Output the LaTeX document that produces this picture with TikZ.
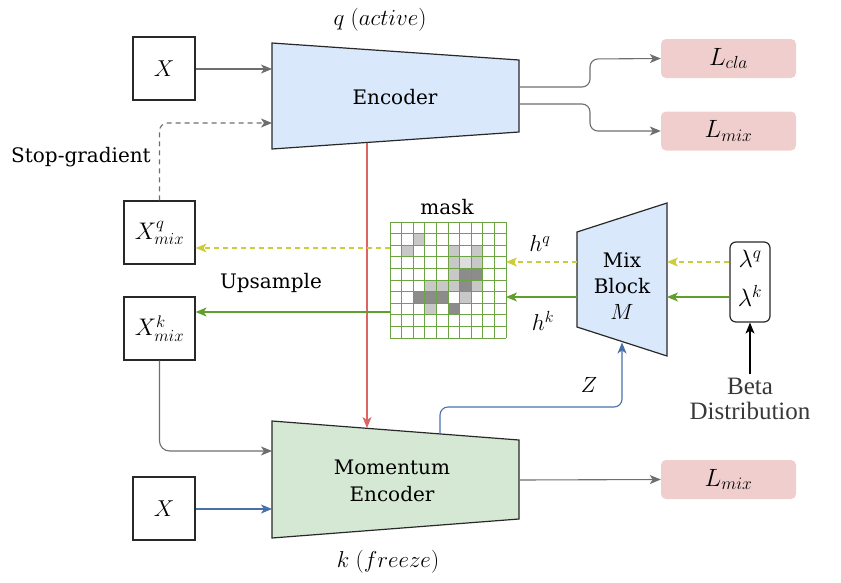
\RequirePackage{fix-cm}
\documentclass[tikz,border=0pt]{standalone}
\usepackage{fontspec}
\setmainfont{DejaVu Serif}
\newfontfamily\betafont{Liberation Serif}
\usetikzlibrary{arrows.meta}
\definecolor{encblue}{RGB}{218,232,252}
\definecolor{momgreen}{RGB}{213,232,212}
\definecolor{lossred}{RGB}{240,206,206}
\definecolor{arrgray}{RGB}{110,110,110}
\definecolor{arrblue}{RGB}{74,112,170}
\definecolor{arrred}{RGB}{222,100,100}
\definecolor{arrgreen}{RGB}{96,158,48}
\definecolor{gridgreen}{RGB}{108,164,68}
\definecolor{arryellow}{RGB}{205,205,60}
\definecolor{cellL}{RGB}{200,200,200}
\definecolor{cellVL}{RGB}{222,222,222}
\definecolor{cellD}{RGB}{140,140,140}
\definecolor{edge}{RGB}{40,40,40}
\begin{document}
\begin{tikzpicture}[x=1pt,y=-1pt,
  every node/.style={font=\fontsize{20}{24}\selectfont, inner sep=0pt},
  inbox/.style={draw=edge, line width=1.2pt, fill=white, inner sep=0pt},
  lossbox/.style={fill=lossred, rounded corners=5pt, minimum width=135pt, minimum height=39pt, font=\fontsize{25}{28}\selectfont},
  shapeline/.style={draw=edge, line width=1.2pt, line join=miter},
  arr/.style={-{Stealth[length=11pt,width=9pt,inset=3pt]}, line width=1.1pt},
  dashedarr/.style={arr, dash pattern=on 5pt off 4pt}
]
\useasboundingbox (0,0) rectangle (841,582);

% ---------- Encoder ----------
\coordinate (E1) at (272,43); \coordinate (E2) at (519,60);
\coordinate (E3) at (519,132); \coordinate (E4) at (272,149);
\draw[shapeline, fill=encblue] (E1) -- (E2) -- (E3) -- (E4) -- cycle;
\node (enc) at (395,97) {Encoder};
\node[font=\fontsize{23}{26}\selectfont] (qact) at (380,20) {$q\;(active)$};

% ---------- Momentum encoder ----------
\coordinate (P1) at (272,421); \coordinate (P2) at (519,440);
\coordinate (P3) at (519,519); \coordinate (P4) at (272,538);
\draw[shapeline, fill=momgreen] (P1) -- (P2) -- (P3) -- (P4) -- cycle;
\node[align=center, font=\fontsize{20}{26.5}\selectfont] (mom) at (392,481) {Momentum\\Encoder};
\node[font=\fontsize{23}{26}\selectfont] (kfr) at (388,562) {$k\;(freeze)$};

% ---------- Mix block ----------
\coordinate (M1) at (577,232); \coordinate (M2) at (667,203);
\coordinate (M3) at (667,356); \coordinate (M4) at (577,327);
\draw[shapeline, fill=encblue] (M1) -- (M2) -- (M3) -- (M4) -- cycle;
\node[align=center, font=\fontsize{20}{26}\selectfont] (mix) at (622,286) {Mix\\Block\\\fontsize{22}{26}\selectfont$M$};

% ---------- input boxes ----------
\node[inbox, minimum width=62pt, minimum height=63pt, font=\fontsize{23}{26}\selectfont] (x1) at (164,68.5) {$X$};
\node[inbox, minimum width=62pt, minimum height=63pt, font=\fontsize{23}{26}\selectfont] (x2) at (164,508.5) {$X$};
\node[inbox, minimum width=71pt, minimum height=63pt, font=\fontsize{24}{26}\selectfont] (xq) at (159.5,232.5) {$X^q_{mix}$};
\node[inbox, minimum width=71pt, minimum height=63pt, font=\fontsize{24}{26}\selectfont] (xk) at (159.5,328.5) {$X^k_{mix}$};

% ---------- losses ----------
\node[lossbox] (lcla) at (728.5,58.5) {$L_{cla}$};
\node[lossbox] (lmix1) at (728.5,131) {$L_{mix}$};
\node[lossbox] (lmix2) at (728.5,479.5) {$L_{mix}$};

% ---------- lambda box ----------
\node[draw=edge, line width=1.2pt, rounded corners=6pt, minimum width=40pt, minimum height=80pt] (lam) at (750,282) {};
\node[font=\fontsize{25}{27}\selectfont] (lq) at (750,259) {$\lambda^q$};
\node[font=\fontsize{25}{27}\selectfont] (lk) at (750,296) {$\lambda^k$};
\node[align=center, text=black!78, font=\betafont\fontsize{25}{25.5}\selectfont] (beta) at (750,399) {Beta\\Distribution};

% ---------- mask grid ----------
\def\gx{390}\def\gy{222}\def\cs{11.6}
\foreach \c/\r/\col in {2/1/cellL,1/2/cellL,5/2/cellL,7/2/cellL,5/3/cellL,6/3/cellVL,7/3/cellL,
  5/4/cellL,6/4/cellD,7/4/cellD,3/5/cellL,4/5/cellL,5/5/cellL,6/5/cellD,7/5/cellL,
  2/6/cellD,3/6/cellD,4/6/cellD,6/6/cellL,3/7/cellL,5/7/cellD}
  \fill[\col] ({\gx+\c*\cs},{\gy+\r*\cs}) rectangle ++(\cs,\cs);
\foreach \i in {0,...,10} {
  \draw[gridgreen, line width=1pt] ({\gx+\i*\cs},\gy) -- ({\gx+\i*\cs},{\gy+10*\cs});
  \draw[gridgreen, line width=1pt] (\gx,{\gy+\i*\cs}) -- ({\gx+10*\cs},{\gy+\i*\cs});
}
\coordinate (gridE1) at (506,262); \coordinate (gridE2) at (506,297);
\coordinate (gridW1) at (390,248); \coordinate (gridW2) at (390,312);
\node (mask) at (447,207) {mask};

% ---------- labels ----------
\node (stopg) at (81,157) {Stop-gradient};
\node (ups) at (271,283) {Upsample};
\node[font=\fontsize{23}{26}\selectfont] (hq) at (540,244) {$h^q$};
\node[font=\fontsize{23}{26}\selectfont] (hk) at (543,321) {$h^k$};
\node[font=\fontsize{22}{26}\selectfont] (zl) at (589,385) {$Z$};

% ---------- connectors ----------
\draw[arr, arrgray] (x1.east |- 0,69) -- (272,69);
\draw[dashedarr, arrgray, rounded corners=8pt] (xq.north) -- (159.5,123) -- (272,123);
\draw[arr, arrgray, rounded corners=8pt] (519,87) -- (590,87) -- (590,59) -- (lcla.west);
\draw[arr, arrgray, rounded corners=8pt] (519,104) -- (590,104) -- (590,131) -- (lmix1.west);
\draw[arr, arrgray] (519,480) -- (lmix2.west);
\draw[arr, arrgray, rounded corners=10pt] (xk.south) -- (159.5,451) -- (272,451);
\draw[arr, arrblue] (x2.east |- 0,509) -- (272,509);
\draw[arr, arrred] (367,142.5) -- (367,428);
\draw[arr, arrblue, rounded corners=8pt] (440,434) -- (440,407) -- (622,407) -- (622,342.5);
\draw[dashedarr, arryellow] (lam.west |- 0,262) -- (667,262);
\draw[arr, arrgreen] (lam.west |- 0,297) -- (667,297);
\draw[dashedarr, arryellow] (577,262) -- (gridE1);
\draw[arr, arrgreen] (577,297) -- (gridE2);
\draw[dashedarr, arryellow] (gridW1) -- (xq.east |- gridW1);
\draw[arr, arrgreen] (gridW2) -- (xk.east |- gridW2);
\draw[arr, black] (beta.north) ++(0,-4) -- (lam.south);
\end{tikzpicture}
\end{document}
